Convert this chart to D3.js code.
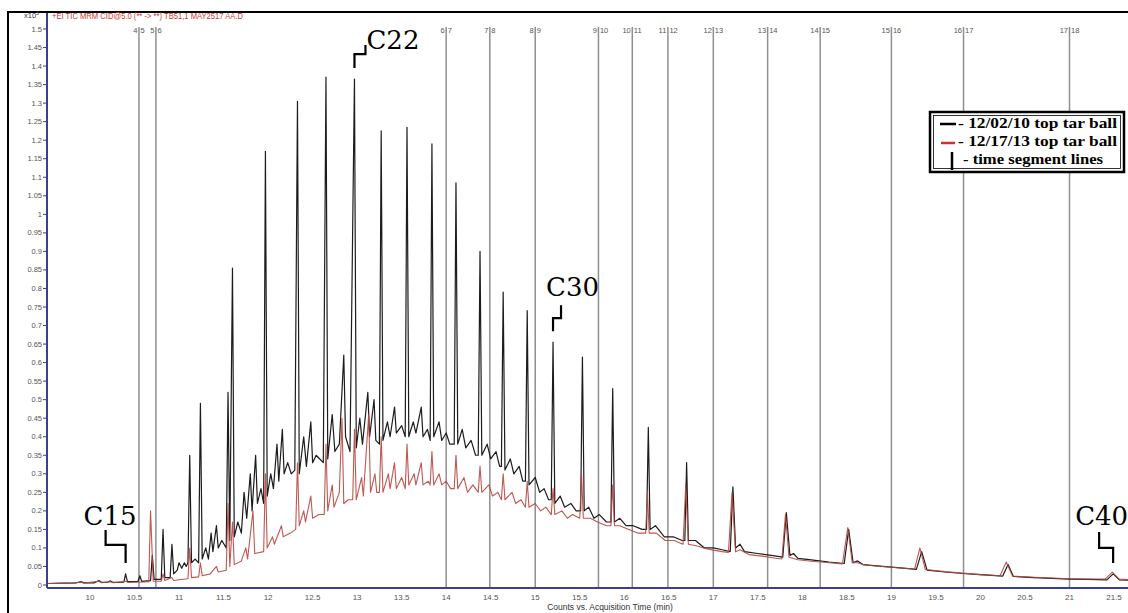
<!DOCTYPE html>
<html>
<head>
<meta charset="utf-8">
<script src="https://cdn.jsdelivr.net/npm/d3@7"></script>
<style>
  html, body { margin: 0; padding: 0; background: #fff; }
  svg { display: block; }
</style>
</head>
<body>
<svg id="chart" width="1128" height="613"></svg>
<script>
// ---- data -------------------------------------------------------------
// Retention time (min) and counts (x10^5) for the 12/02/10 tar ball TIC
const tarBall2010 = [
  [9.52,0.004],[9.7,0.005],[9.85,0.006],[9.9,0.009],[9.93,0.006],[10.05,0.006],[10.1,0.012],[10.13,0.007],
  [10.2,0.008],[10.23,0.011],[10.26,0.007],[10.38,0.008],[10.4,0.03],[10.42,0.009],[10.54,0.01],[10.56,0.025],
  [10.58,0.01],[10.68,0.012],[10.7,0.08],[10.72,0.015],[10.8,0.015],[10.82,0.15],[10.84,0.02],[10.9,0.02],
  [10.92,0.11],[10.94,0.03],[10.98,0.04],[11.0,0.06],[11.03,0.045],[11.06,0.06],[11.08,0.05],[11.1,0.06],
  [11.12,0.35],[11.14,0.06],[11.18,0.07],[11.22,0.06],[11.24,0.49],[11.26,0.07],[11.3,0.1],[11.33,0.07],
  [11.36,0.14],[11.38,0.09],[11.42,0.16],[11.44,0.1],[11.48,0.12],[11.53,0.1],[11.55,0.52],[11.57,0.12],
  [11.6,0.855],[11.62,0.13],[11.66,0.17],[11.7,0.14],[11.73,0.25],[11.76,0.18],[11.8,0.3],[11.82,0.2],
  [11.86,0.35],[11.88,0.22],[11.92,0.26],[11.95,0.22],[11.97,1.17],[11.99,0.24],[12.03,0.3],[12.06,0.26],
  [12.1,0.38],[12.12,0.28],[12.16,0.42],[12.18,0.3],[12.22,0.33],[12.26,0.3],[12.3,0.31],[12.33,1.305],
  [12.35,0.3],[12.4,0.4],[12.43,0.32],[12.48,0.44],[12.5,0.33],[12.54,0.35],[12.58,0.34],[12.62,0.33],
  [12.65,1.37],[12.67,0.34],[12.72,0.46],[12.75,0.36],[12.8,0.38],[12.85,0.62],[12.87,0.4],[12.92,0.36],
  [12.97,1.365],[12.99,0.37],[13.03,0.45],[13.06,0.38],[13.12,0.52],[13.14,0.4],[13.19,0.5],[13.21,0.39],
  [13.25,0.38],[13.27,1.225],[13.29,0.39],[13.34,0.44],[13.37,0.4],[13.42,0.48],[13.44,0.41],[13.5,0.43],
  [13.54,0.4],[13.56,1.235],[13.58,0.4],[13.63,0.44],[13.66,0.41],[13.72,0.48],[13.74,0.4],[13.79,0.42],
  [13.82,0.39],[13.84,1.19],[13.86,0.4],[13.92,0.44],[13.95,0.39],[14.0,0.41],[14.04,0.38],[14.09,0.38],
  [14.11,1.085],[14.13,0.38],[14.18,0.42],[14.22,0.37],[14.28,0.39],[14.33,0.35],[14.36,0.35],[14.38,0.9],
  [14.4,0.35],[14.46,0.38],[14.5,0.34],[14.56,0.36],[14.6,0.32],[14.62,0.32],[14.64,0.79],[14.66,0.31],
  [14.72,0.34],[14.76,0.3],[14.82,0.32],[14.86,0.28],[14.89,0.28],[14.91,0.74],[14.93,0.27],[15.0,0.29],
  [15.05,0.25],[15.1,0.26],[15.15,0.23],[15.18,0.23],[15.2,0.655],[15.22,0.22],[15.28,0.24],[15.33,0.21],
  [15.4,0.22],[15.46,0.2],[15.51,0.2],[15.53,0.615],[15.55,0.2],[15.6,0.21],[15.66,0.18],[15.72,0.19],
  [15.8,0.17],[15.85,0.17],[15.87,0.53],[15.89,0.17],[15.95,0.18],[16.02,0.16],[16.1,0.16],[16.2,0.15],
  [16.25,0.15],[16.27,0.425],[16.29,0.15],[16.35,0.16],[16.45,0.13],[16.55,0.13],[16.65,0.12],[16.68,0.12],
  [16.7,0.33],[16.72,0.12],[16.8,0.12],[16.9,0.1],[17.0,0.1],[17.1,0.095],[17.19,0.09],[17.22,0.265],
  [17.25,0.1],[17.3,0.11],[17.35,0.09],[17.5,0.085],[17.65,0.08],[17.78,0.075],[17.82,0.195],[17.86,0.08],
  [17.9,0.085],[17.95,0.072],[18.1,0.068],[18.3,0.062],[18.47,0.058],[18.52,0.15],[18.57,0.06],[18.62,0.065],
  [18.68,0.055],[18.9,0.05],[19.1,0.046],[19.28,0.042],[19.34,0.09],[19.4,0.04],[19.6,0.035],[19.8,0.031],
  [20.0,0.028],[20.25,0.024],[20.31,0.055],[20.37,0.023],[20.6,0.02],[20.8,0.018],[21.0,0.016],[21.2,0.015],
  [21.42,0.014],[21.49,0.03],[21.56,0.014],[21.75,0.012]
];

// Retention time (min) and counts (x10^5) for the 12/17/13 tar ball TIC
const tarBall2013 = [
  [9.52,0.004],[9.8,0.005],[9.9,0.008],[9.93,0.005],[10.1,0.01],[10.13,0.006],[10.23,0.009],[10.26,0.006],
  [10.4,0.01],[10.43,0.007],[10.6,0.008],[10.66,0.009],[10.68,0.2],[10.71,0.01],[10.8,0.01],[10.82,0.03],
  [10.84,0.012],[10.92,0.02],[10.94,0.012],[11.0,0.014],[11.1,0.017],[11.12,0.1],[11.14,0.02],[11.22,0.022],
  [11.24,0.06],[11.26,0.025],[11.35,0.03],[11.42,0.05],[11.44,0.035],[11.53,0.04],[11.55,0.22],[11.57,0.05],
  [11.6,0.17],[11.62,0.055],[11.7,0.065],[11.75,0.1],[11.77,0.07],[11.83,0.2],[11.85,0.085],[11.95,0.09],
  [11.97,0.3],[11.99,0.1],[12.05,0.13],[12.07,0.11],[12.15,0.16],[12.17,0.13],[12.25,0.14],[12.31,0.15],
  [12.33,0.33],[12.35,0.16],[12.4,0.2],[12.42,0.17],[12.48,0.24],[12.5,0.18],[12.57,0.19],[12.63,0.19],
  [12.65,0.38],[12.67,0.2],[12.72,0.27],[12.74,0.21],[12.8,0.25],[12.83,0.45],[12.85,0.22],[12.9,0.23],
  [12.95,0.23],[12.97,0.42],[12.99,0.23],[13.05,0.29],[13.07,0.24],[13.13,0.46],[13.15,0.25],[13.2,0.3],
  [13.22,0.25],[13.25,0.25],[13.27,0.4],[13.29,0.25],[13.35,0.3],[13.37,0.26],[13.42,0.33],[13.44,0.26],
  [13.5,0.29],[13.54,0.26],[13.56,0.38],[13.58,0.27],[13.64,0.3],[13.66,0.27],[13.72,0.33],[13.74,0.27],
  [13.8,0.28],[13.82,0.27],[13.84,0.36],[13.86,0.27],[13.92,0.3],[13.95,0.27],[14.0,0.28],[14.05,0.26],
  [14.09,0.26],[14.11,0.35],[14.13,0.26],[14.2,0.29],[14.24,0.25],[14.3,0.27],[14.36,0.25],[14.38,0.32],
  [14.4,0.25],[14.48,0.27],[14.52,0.24],[14.58,0.25],[14.62,0.23],[14.64,0.3],[14.66,0.23],[14.74,0.25],
  [14.78,0.22],[14.84,0.23],[14.89,0.21],[14.91,0.28],[14.93,0.21],[15.0,0.22],[15.06,0.2],[15.12,0.21],
  [15.18,0.19],[15.2,0.26],[15.22,0.19],[15.3,0.2],[15.36,0.18],[15.42,0.19],[15.5,0.18],[15.52,0.3],
  [15.54,0.18],[15.62,0.18],[15.7,0.17],[15.8,0.16],[15.85,0.16],[15.87,0.27],[15.89,0.16],[15.95,0.16],
  [16.05,0.15],[16.15,0.14],[16.24,0.14],[16.26,0.25],[16.28,0.14],[16.36,0.14],[16.46,0.12],[16.56,0.12],
  [16.66,0.11],[16.69,0.27],[16.72,0.11],[16.82,0.105],[16.92,0.098],[17.0,0.094],[17.1,0.09],[17.17,0.088],
  [17.21,0.25],[17.25,0.09],[17.3,0.095],[17.4,0.082],[17.55,0.078],[17.7,0.072],[17.77,0.07],[17.81,0.19],
  [17.85,0.075],[17.95,0.068],[18.1,0.064],[18.3,0.06],[18.45,0.057],[18.51,0.155],[18.56,0.06],[18.62,0.06],
  [18.7,0.054],[18.9,0.05],[19.1,0.046],[19.26,0.043],[19.32,0.1],[19.38,0.042],[19.6,0.036],[19.8,0.032],
  [20.0,0.028],[20.22,0.025],[20.29,0.062],[20.36,0.024],[20.6,0.021],[20.8,0.019],[21.0,0.017],[21.2,0.016],
  [21.4,0.016],[21.48,0.035],[21.56,0.016],[21.75,0.014]
];

// Acquisition time segment boundaries and their labels
const segmentTimes = [10.55, 10.74, 14.0, 14.49, 15.0, 15.71, 16.09, 16.49, 17.0, 17.61, 18.2, 19.0, 19.81, 21.0];
const segmentLabels = [["4","5"],["5","6"],["6","7"],["7","8"],["8","9"],["9","10"],["10","11"],
                       ["11","12"],["12","13"],["13","14"],["14","15"],["15","16"],["16","17"],["17","18"]];

const xTicks = [10,10.5,11,11.5,12,12.5,13,13.5,14,14.5,15,15.5,16,16.5,17,17.5,18,18.5,19,19.5,20,20.5,21,21.5];
const yTicks = [0,0.05,0.1,0.15,0.2,0.25,0.3,0.35,0.4,0.45,0.5,0.55,0.6,0.65,0.7,0.75,0.8,0.85,0.9,0.95,
                1,1.05,1.1,1.15,1.2,1.25,1.3,1.35,1.4,1.45,1.5];
const yTickLabels = yTicks.map(v => String(v));

// n-alkane markers: name, retention time, peak counts
const alkaneNames = ["C15", "C22", "C30", "C40"];
const alkaneTimes = [10.4, 12.97, 15.2, 21.49];
const alkaneCounts = [0.03, 1.365, 0.655, 0.03];

const legendLabels = ["- 12/02/10 top tar ball", "- 12/17/13 top tar ball", "- time segment lines"];
const headerText = "+EI TIC MRM CID@5.0 (** -> **) TB51,1 MAY2517 AA.D";

// ---- drawing ----------------------------------------------------------
const svg = d3.select("#chart");
svg.append("rect").attr("width", 1128).attr("height", 613).attr("fill", "#fff");

const plot = { left: 47, right: 1128, top: 13, bottom: 588 };
const x = d3.scaleLinear().domain([10, 21]).range([90, 1069.5]);
const y = d3.scaleLinear().domain([0, 1.5]).range([585, 29]);

// outer frame
svg.append("path")
  .attr("d", "M8,613 V12 H1128")
  .attr("fill", "none").attr("stroke", "#000").attr("stroke-width", 2);

svg.append("defs").append("clipPath").attr("id", "plotClip")
  .append("rect").attr("x", plot.left).attr("y", 0)
  .attr("width", plot.right - plot.left).attr("height", plot.bottom);

// header
const hdr = svg.append("text").attr("x", 24).attr("y", 18)
  .attr("font-family", "Liberation Sans, Arial, sans-serif").attr("font-size", 7.5).attr("fill", "#333");
hdr.append("tspan").text("x10");
hdr.append("tspan").attr("dy", -3).attr("font-size", 5.5).text("5");
svg.append("text").attr("x", 52).attr("y", 18.5)
  .attr("font-family", "Liberation Sans, Arial, sans-serif").attr("font-size", 8.5)
  .attr("fill", "#cc3a2a").attr("textLength", 191).attr("lengthAdjust", "spacingAndGlyphs")
  .text(headerText);

// time segment lines
const seg = svg.append("g").attr("clip-path", "url(#plotClip)");
segmentTimes.forEach((t, i) => {
  const sx = x(t);
  seg.append("line").attr("x1", sx).attr("x2", sx).attr("y1", 27).attr("y2", plot.bottom)
    .attr("stroke", "#8f8f8f").attr("stroke-width", 1.5);
  seg.append("text").attr("x", sx - 1.5).attr("y", 33).attr("text-anchor", "end")
    .attr("font-family", "Liberation Sans, Arial, sans-serif").attr("font-size", 7.5).attr("fill", "#555")
    .text(segmentLabels[i][0]);
  seg.append("text").attr("x", sx + 1.5).attr("y", 33)
    .attr("font-family", "Liberation Sans, Arial, sans-serif").attr("font-size", 7.5).attr("fill", "#555")
    .text(segmentLabels[i][1]);
});

// chromatogram traces
const line = d3.line().x(d => x(d[0])).y(d => y(d[1]));
const traces = svg.append("g").attr("clip-path", "url(#plotClip)");
traces.append("path").datum(tarBall2010).attr("d", line)
  .attr("fill", "none").attr("stroke", "#1c1c1c").attr("stroke-width", 1.2).attr("stroke-linejoin", "round");
traces.append("path").datum(tarBall2013).attr("d", line)
  .attr("fill", "none").attr("stroke", "#b8453f").attr("stroke-width", 1.1).attr("stroke-linejoin", "round")
  .attr("stroke-opacity", 0.9);

// y axis
const yAxis = svg.append("g");
yAxis.append("line").attr("x1", plot.left).attr("x2", plot.left).attr("y1", plot.top).attr("y2", plot.bottom)
  .attr("stroke", "#3a3f8f").attr("stroke-width", 2);
yTicks.forEach((v, i) => {
  yAxis.append("line").attr("x1", plot.left - 4).attr("x2", plot.left).attr("y1", y(v)).attr("y2", y(v))
    .attr("stroke", "#3a3f8f").attr("stroke-width", 1);
  yAxis.append("text").attr("x", plot.left - 5).attr("y", y(v) + 2.5).attr("text-anchor", "end")
    .attr("font-family", "Liberation Sans, Arial, sans-serif").attr("font-size", 7.5).attr("fill", "#555")
    .text(yTickLabels[i]);
});

// x axis
const xAxis = svg.append("g");
xAxis.append("line").attr("x1", plot.left).attr("x2", plot.right).attr("y1", plot.bottom).attr("y2", plot.bottom)
  .attr("stroke", "#3a3f8f").attr("stroke-width", 2);
xTicks.forEach(t => {
  xAxis.append("text").attr("x", x(t)).attr("y", 600).attr("text-anchor", "middle")
    .attr("font-family", "Liberation Sans, Arial, sans-serif").attr("font-size", 8).attr("fill", "#555")
    .text(String(t));
});
svg.append("text").attr("x", 610).attr("y", 610).attr("text-anchor", "middle")
  .attr("font-family", "Liberation Sans, Arial, sans-serif").attr("font-size", 8.5).attr("fill", "#333")
  .text("Counts vs. Acquisition Time (min)");

// n-alkane annotations: bracket from the peak apex to the label
const markLayout = {
  C15: { arm: -20, rise1: 18, rise2: 15, dx: -42, dy: -38 },
  C22: { arm: 11, rise1: 14, rise2: 9, dx: 12, dy: -19 },
  C30: { arm: 8, rise1: 13, rise2: 13, dx: -7, dy: -35 },
  C40: { arm: -14, rise1: 15, rise2: 16, dx: -38, dy: -38 }
};
alkaneNames.forEach((name, i) => {
  const L = markLayout[name];
  const tx = x(alkaneTimes[i]);
  const ty = y(alkaneCounts[i]) - 11;
  svg.append("path")
    .attr("d", `M${tx},${ty} v${-L.rise1} h${L.arm} v${-L.rise2}`)
    .attr("fill", "none").attr("stroke", "#000").attr("stroke-width", 2.2);
  svg.append("text").attr("x", tx + L.dx).attr("y", ty + L.dy)
    .attr("font-family", "DejaVu Serif, serif").attr("font-size", 26).attr("fill", "#000")
    .text(name);
});

// legend
const lg = svg.append("g");
lg.append("rect").attr("x", 930).attr("y", 112).attr("width", 194).attr("height", 60)
  .attr("fill", "#fff").attr("stroke", "#000").attr("stroke-width", 2.5);
lg.append("rect").attr("x", 933.5).attr("y", 115.5).attr("width", 187).attr("height", 53)
  .attr("fill", "none").attr("stroke", "#000").attr("stroke-width", 0.8);
lg.append("line").attr("x1", 940).attr("x2", 956).attr("y1", 124).attr("y2", 124)
  .attr("stroke", "#000").attr("stroke-width", 2.5);
lg.append("line").attr("x1", 941).attr("x2", 955).attr("y1", 143).attr("y2", 143)
  .attr("stroke", "#d0302c").attr("stroke-width", 2.5);
lg.append("line").attr("x1", 952).attr("x2", 952).attr("y1", 152).attr("y2", 170)
  .attr("stroke", "#000").attr("stroke-width", 2.5);
const legendX = [958, 958, 963];
const legendY = [128, 146, 164];
const legendW = [159, 159, 140];
legendLabels.forEach((s, i) => {
  lg.append("text").attr("x", legendX[i]).attr("y", legendY[i])
    .attr("font-family", "Liberation Serif, Times New Roman, serif").attr("font-weight", "bold")
    .attr("font-size", 15).attr("fill", "#000")
    .attr("textLength", legendW[i]).attr("lengthAdjust", "spacingAndGlyphs")
    .text(s);
});
</script>
</body>
</html>
